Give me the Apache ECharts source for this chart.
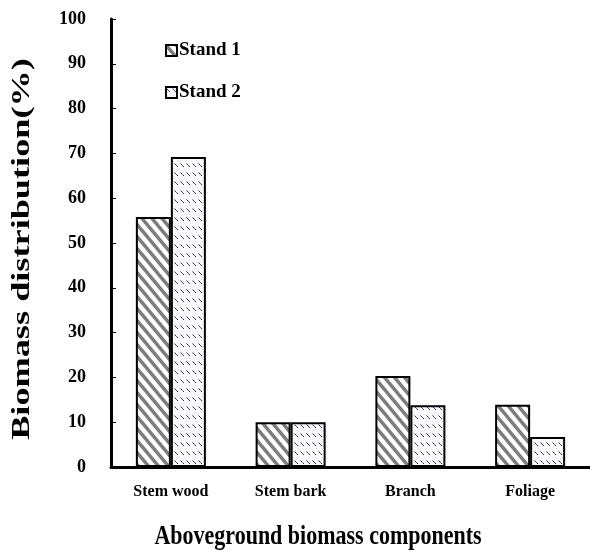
<!DOCTYPE html>
<html>
<head>
<meta charset="utf-8">
<script src="https://cdn.jsdelivr.net/npm/echarts@6/dist/echarts.min.js"></script>
<style>
html,body{margin:0;padding:0;background:#fff;}
#chart{width:590px;height:552px;}
</style>
</head>
<body>
<div id="chart"></div>
<script>
const categories = ['Stem wood', 'Stem bark', 'Branch', 'Foliage'];
const seriesNames = ['Stand 1', 'Stand 2'];
const stand1 = [55.8, 10.0, 20.3, 13.9];
const stand2 = [69.2, 10.0, 13.8, 6.7];
const yTitle = 'Biomass distribution(%)';
const xTitle = 'Aboveground biomass components';

function stripePattern() {
  const w = 10, h = 12;
  const c = document.createElement('canvas');
  c.width = w; c.height = h;
  const g = c.getContext('2d');
  g.fillStyle = '#ffffff';
  g.fillRect(0, 0, w, h);
  g.strokeStyle = '#7c7c7c';
  g.lineWidth = 3.4;
  for (let k = -2; k <= 2; k++) {
    g.beginPath();
    g.moveTo(k * w - w, -h);
    g.lineTo(k * w + 2 * w, 2 * h);
    g.stroke();
  }
  return c;
}

function dotPattern() {
  const w = 6, h = 9;
  const c = document.createElement('canvas');
  c.width = w; c.height = h;
  const g = c.getContext('2d');
  g.fillStyle = '#fcfcff';
  g.fillRect(0, 0, w, h);
  g.fillStyle = '#9898c8';
  g.fillRect(0, 1, 1, 1);
  g.fillStyle = '#26267a';
  g.fillRect(1, 2, 1, 1);
  g.fillRect(3, 4, 1, 1);
  g.fillStyle = '#5050a0';
  g.fillRect(2, 3, 1, 1);
  g.fillStyle = '#e6e6f6';
  g.fillRect(4, 7, 1, 1);
  return c;
}

const FONT = '"Liberation Serif", "Times New Roman", serif';
const chart = echarts.init(document.getElementById('chart'), null, { renderer: 'canvas' });

const barStyle = (img) => ({
  color: { image: img, repeat: 'repeat' },
  borderColor: '#000',
  borderWidth: 2
});

chart.setOption({
  animation: false,
  backgroundColor: '#ffffff',
  grid: { left: 111, top: 19, bottom: 85, width: 490, containLabel: false },
  legend: {
    orient: 'vertical',
    left: 160,
    top: 36,
    itemWidth: 11,
    itemHeight: 11,
    itemGap: 23,
    icon: 'rect',
    data: seriesNames,
    textStyle: { fontFamily: FONT, fontWeight: 'bold', fontSize: 19, color: '#000', padding: [0, 0, 0, -3] }
  },
  xAxis: {
    type: 'category',
    data: categories,
    axisLine: { lineStyle: { color: '#000', width: 3 } },
    axisTick: { inside: true, length: 6, lineStyle: { color: '#999', width: 1 } },
    axisLabel: { margin: 17, fontFamily: FONT, fontWeight: 'bold', fontSize: 16, color: '#000' },
    splitLine: { show: false }
  },
  yAxis: {
    type: 'value',
    min: 0,
    max: 100,
    interval: 10,
    axisLine: { show: true, lineStyle: { color: '#000', width: 3 } },
    axisTick: { show: true, inside: true, length: 5, lineStyle: { color: '#000', width: 1 } },
    axisLabel: { margin: 25, fontFamily: FONT, fontWeight: 'bold', fontSize: 18, color: '#000' },
    splitLine: { show: false }
  },
  series: [
    {
      name: seriesNames[0],
      type: 'bar',
      data: stand1,
      barWidth: 35,
      barGap: '0%',
      itemStyle: barStyle(stripePattern())
    },
    {
      name: seriesNames[1],
      type: 'bar',
      data: stand2,
      barWidth: 35,
      barGap: '0%',
      itemStyle: barStyle(dotPattern())
    }
  ],
  graphic: [
    {
      type: 'text',
      x: 23,
      y: 249,
      rotation: Math.PI / 2,
      scaleX: 1.45,
      style: {
        text: yTitle,
        font: 'bold 25px ' + FONT,
        fill: '#000',
        textAlign: 'center',
        textVerticalAlign: 'middle'
      }
    },
    {
      type: 'text',
      x: 318,
      y: 537,
      scaleY: 1.25,
      style: {
        text: xTitle,
        font: 'bold 22px ' + FONT,
        fill: '#000',
        textAlign: 'center',
        textVerticalAlign: 'middle'
      }
    }
  ]
});
</script>
</body>
</html>
